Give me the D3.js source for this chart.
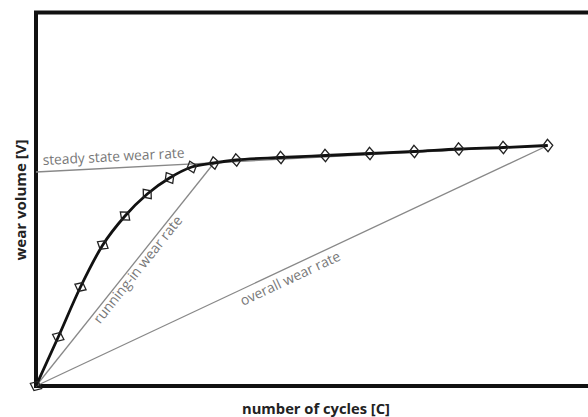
<!DOCTYPE html>
<html><head><meta charset="utf-8">
<script src="https://cdn.jsdelivr.net/npm/d3@7"></script>
<style>html,body{margin:0;padding:0;background:#fff;}</style>
</head><body>
<svg id="c" width="588" height="417"></svg>
<script>
// ---- data ----
const cycles = [0,1,2,3,4,5,6,7,8,9,11,13,15,17,19,21,23];
const wear   = [0,4.9,9.9,14.1,17.0,19.2,20.8,21.9,22.3,22.6,22.85,23.05,23.25,23.45,23.7,23.85,24.05];
// reference lines: [x0,y0,x1,y1] in data units
const steadyLine  = [0, 21.4, 23, 24.05];
const runningLine = [0, 0, 8, 22.3];
const overallLine = [0, 0, 23, 24.05];
const lineLabels = ["steady state wear rate", "running-in wear rate", "overall wear rate"];
const labelAnchors = [[0.31, 22.1], [2.88, 6.15], [9.3, 8.0]];
const xTitle = "number of cycles [C]";
const yTitle = "wear volume [V]";

const svg = d3.select("#c");
const x = d3.scaleLinear().domain([0, 25]).range([36, 592.25]);
const y = d3.scaleLinear().domain([0, 37.35]).range([386, 12.5]);

// frame
svg.append("rect").attr("x", x(0)).attr("y", y(37.35))
  .attr("width", x(25)-x(0)).attr("height", y(0)-y(37.35))
  .attr("fill","none").attr("stroke","#111").attr("stroke-width",4);

// gray reference lines
const refs = [steadyLine, runningLine, overallLine];
svg.selectAll("line.ref").data(refs).join("line").attr("class","ref")
  .attr("x1", d=>x(d[0])).attr("y1", d=>y(d[1]))
  .attr("x2", d=>x(d[2])).attr("y2", d=>y(d[3]))
  .attr("stroke","#888").attr("stroke-width",1.3);

// labels along lines
const angle = d => Math.atan2(y(d[3])-y(d[1]), x(d[2])-x(d[0])) * 180/Math.PI;
const targetLen = [142, 133, 109];
lineLabels.forEach((t,i)=>{
  const a = labelAnchors[i];
  svg.append("text").text(t)
    .attr("transform", `translate(${x(a[0])},${y(a[1])}) rotate(${angle(refs[i])})`)
    .attr("font-family","'Open Sans', sans-serif").attr("font-size",14)
    .attr("fill","#777")
    .attr("textLength", targetLen[i]).attr("lengthAdjust","spacingAndGlyphs");
});

// curve
const pts = cycles.map((c,i)=>[c, wear[i]]);
svg.append("path").datum(pts)
  .attr("d", d3.line().x(d=>x(d[0])).y(d=>y(d[1])).curve(d3.curveMonotoneX))
  .attr("fill","none").attr("stroke","#111").attr("stroke-width",2.8);

// diamond markers, oriented along the curve
svg.selectAll("path.m").data(pts).join("path").attr("class","m")
  .attr("d","M-5,0L0,-6.2L5,0L0,6.2Z")
  .attr("transform",(d,i)=>{
    const p = pts[Math.max(0,i-1)], n = pts[Math.min(pts.length-1,i+1)];
    const a = Math.atan2(y(n[1])-y(p[1]), x(n[0])-x(p[0]))*180/Math.PI;
    return `translate(${x(d[0])},${y(d[1])}) rotate(${a})`;
  })
  .attr("fill","none").attr("stroke","#222").attr("stroke-width",1.3);

// axis titles
svg.append("text").text(xTitle)
  .attr("x", 316).attr("y", 414).attr("text-anchor","middle")
  .attr("font-family","'Open Sans', sans-serif").attr("font-weight","bold").attr("font-size",14)
  .attr("fill","#222").attr("textLength",148).attr("lengthAdjust","spacingAndGlyphs");
svg.append("text").text(yTitle)
  .attr("transform","translate(25.5,200) rotate(-90)").attr("text-anchor","middle")
  .attr("font-family","'Open Sans', sans-serif").attr("font-weight","bold").attr("font-size",14)
  .attr("fill","#222").attr("textLength",121).attr("lengthAdjust","spacingAndGlyphs");
</script>
</body></html>
